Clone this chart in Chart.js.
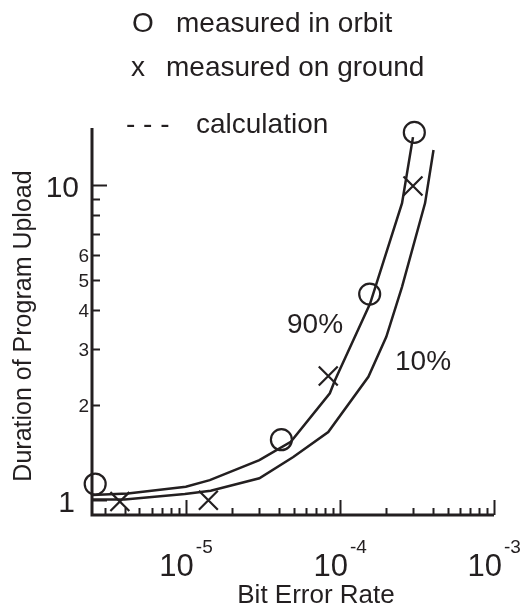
<!DOCTYPE html>
<html>
<head>
<meta charset="utf-8">
<script src="https://cdn.jsdelivr.net/npm/chart.js@4/dist/chart.umd.min.js"></script>
<style>
html,body{margin:0;padding:0;background:#fff;}
canvas{display:block;}
</style>
</head>
<body>
<canvas id="c" width="525" height="608"></canvas>
<script>
// ---- data ----
const orbitBER = [2.58e-6, 4.17e-5, 1.56e-4, 3.04e-4];
const orbitDuration = [1.12, 1.55, 4.5, 14.7];
const groundBER = [3.73e-6, 1.40e-5, 8.4e-5, 2.98e-4];
const groundDuration = [0.985, 0.995, 2.47, 9.93];
const calc90BER = [2.47e-6, 4.2e-6, 1.0e-5, 1.43e-5, 3.0e-5, 4.8e-5, 8.6e-5, 9.3e-5, 1.57e-4, 2.53e-4, 2.98e-4];
const calc90Duration = [1.033, 1.046, 1.098, 1.153, 1.335, 1.527, 2.177, 2.398, 4.20, 8.76, 14.2];
const calc10BER = [2.47e-6, 4.0e-6, 9.85e-6, 1.45e-5, 3.0e-5, 4.98e-5, 8.4e-5, 1.53e-4, 2.0e-4, 2.53e-4, 3.57e-4, 4.05e-4];
const calc10Duration = [1.0, 1.0, 1.041, 1.067, 1.168, 1.365, 1.639, 2.457, 3.291, 4.746, 8.76, 12.92];

const xDecadeExponents = [-5, -4, -3];
const yBigTicks = [1, 10];
const yBigTickLabels = ['1', '10'];
const ySmallTicks = [2, 3, 4, 5, 6];
const ySmallTickLabels = ['2', '3', '4', '5', '6'];
const yUnlabeledTicks = [7, 8, 9];

const legendLines = ['measured in orbit', 'measured on ground', 'calculation'];
const legendSymbols = ['O', 'x', '- - -'];
const curveLabels = ['90%', '10%'];
const xTitle = 'Bit Error Rate';
const yTitle = 'Duration of Program Upload';

const INK = '#231f20';
const FONT = '"Liberation Sans", Arial, Helvetica, sans-serif';

function pts(xs, ys) { return xs.map((x, i) => ({x: x, y: ys[i]})); }

const axesPlugin = {
  id: 'axesPlugin',
  beforeDatasetsDraw(chart) {
    const ctx = chart.ctx, xs = chart.scales.x, ys = chart.scales.y, a = chart.chartArea;
    ctx.save();
    ctx.strokeStyle = INK;
    ctx.lineCap = 'butt';
    ctx.lineWidth = 3;
    ctx.beginPath();
    ctx.moveTo(a.left, a.top);
    ctx.lineTo(a.left, a.bottom);
    ctx.lineTo(a.right, a.bottom);
    ctx.stroke();
    ctx.lineWidth = 2;
    for (let e = -6; e <= -3; e++) {
      for (let m = 1; m <= 9; m++) {
        const v = m * Math.pow(10, e);
        if (v < xs.min * 0.999 || v > xs.max * 1.001) continue;
        const px = Math.round(xs.getPixelForValue(v)) + 0.5;
        const len = m === 1 ? 15 : 7;
        ctx.beginPath();
        ctx.moveTo(px, a.bottom);
        ctx.lineTo(px, a.bottom - len);
        ctx.stroke();
      }
    }
    yBigTicks.forEach(v => {
      const py = Math.round(ys.getPixelForValue(v)) + 0.5;
      ctx.beginPath(); ctx.moveTo(a.left, py); ctx.lineTo(a.left + 15, py); ctx.stroke();
    });
    ySmallTicks.concat(yUnlabeledTicks).forEach(v => {
      const py = Math.round(ys.getPixelForValue(v)) + 0.5;
      ctx.beginPath(); ctx.moveTo(a.left, py); ctx.lineTo(a.left + 8, py); ctx.stroke();
    });
    ctx.restore();
  },
  afterDraw(chart) {
    const ctx = chart.ctx, xs = chart.scales.x, ys = chart.scales.y, a = chart.chartArea;
    ctx.save();
    ctx.fillStyle = INK;
    ctx.textAlign = 'right';
    ctx.textBaseline = 'alphabetic';
    ctx.font = '30px ' + FONT;
    yBigTicks.forEach((v, i) => {
      const py = ys.getPixelForValue(v);
      const dx = v === 1 ? 17 : 13;
      ctx.fillText(yBigTickLabels[i], a.left - dx, py + 12);
    });
    ctx.font = '19px ' + FONT;
    ySmallTicks.forEach((v, i) => {
      const py = ys.getPixelForValue(v);
      ctx.fillText(ySmallTickLabels[i], a.left - 3, py + 7);
    });
    xDecadeExponents.forEach(e => {
      const px = xs.getPixelForValue(Math.pow(10, e));
      ctx.font = '31px ' + FONT;
      ctx.textAlign = 'right';
      ctx.fillText('10', px + 8, 576);
      ctx.font = '19px ' + FONT;
      ctx.textAlign = 'left';
      ctx.fillText(String(e), px + 10, 553);
    });
    ctx.font = '26px ' + FONT;
    ctx.textAlign = 'center';
    ctx.fillText(xTitle, 316, 603);
    ctx.save();
    ctx.translate(31, 326);
    ctx.rotate(-Math.PI / 2);
    ctx.font = '25px ' + FONT;
    ctx.textAlign = 'center';
    ctx.fillText(yTitle, 0, 0);
    ctx.restore();
    ctx.font = '28px ' + FONT;
    ctx.textAlign = 'left';
    ctx.fillText(legendSymbols[0], 132, 32);
    ctx.fillText(legendLines[0], 176, 32);
    ctx.fillText(legendSymbols[1], 131, 76);
    ctx.fillText(legendLines[1], 166, 76);
    ctx.fillText(legendSymbols[2], 126, 133);
    ctx.fillText(legendLines[2], 196, 133);
    ctx.fillText(curveLabels[0], 287, 333);
    ctx.fillText(curveLabels[1], 395, 370);
    ctx.restore();
  }
};

new Chart(document.getElementById('c'), {
  type: 'scatter',
  data: {
    datasets: [
      {label: '90%', data: pts(calc90BER, calc90Duration), showLine: true, borderColor: INK, borderWidth: 2.5, pointRadius: 0, tension: 0, fill: false, clip: false},
      {label: '10%', data: pts(calc10BER, calc10Duration), showLine: true, borderColor: INK, borderWidth: 2.5, pointRadius: 0, tension: 0, fill: false, clip: false},
      {label: 'measured in orbit', data: pts(orbitBER, orbitDuration), showLine: false, pointStyle: 'circle', pointRadius: 10.5, pointBorderWidth: 2.2, borderColor: INK, pointBorderColor: INK, backgroundColor: 'rgba(0,0,0,0)', pointBackgroundColor: 'rgba(0,0,0,0)', clip: false},
      {label: 'measured on ground', data: pts(groundBER, groundDuration), showLine: false, pointStyle: 'crossRot', pointRadius: 13.4, pointBorderWidth: 2.2, borderColor: INK, pointBorderColor: INK, clip: false}
    ]
  },
  options: {
    responsive: false,
    animation: false,
    events: [],
    layout: {padding: {left: 92, right: 31, top: 128, bottom: 93}},
    plugins: {legend: {display: false}, tooltip: {enabled: false}, title: {display: false}},
    scales: {
      x: {type: 'logarithmic', min: 2.46e-6, max: 1e-3, display: false},
      y: {type: 'logarithmic', min: 0.893, max: 15.18, display: false}
    }
  },
  plugins: [axesPlugin]
});
</script>
</body>
</html>
